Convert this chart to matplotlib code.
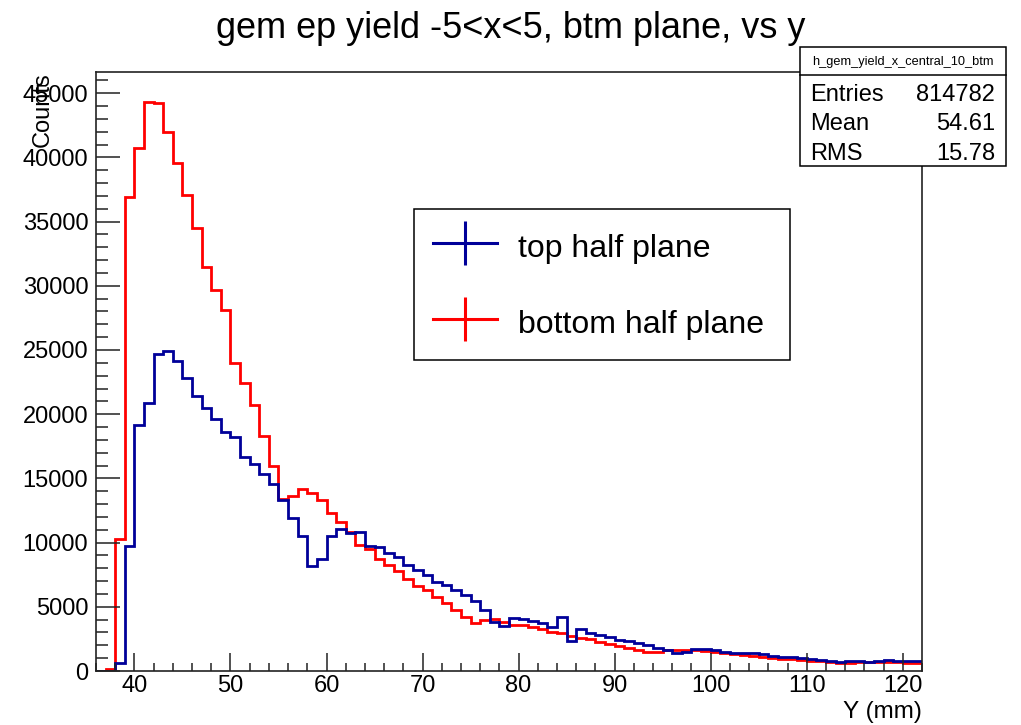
import numpy as np
import matplotlib
matplotlib.use("Agg")
import matplotlib.pyplot as plt
from matplotlib.lines import Line2D
from matplotlib.patches import Rectangle
from matplotlib.ticker import MultipleLocator

plt.rcParams['font.family'] = ['Liberation Sans', 'DejaVu Sans']

# ---- data (1 mm bins from 36 to 122 mm) ----
bin_edges = list(range(36, 123))

bottom_half = [
    0, 150, 10300, 36900, 40700, 44300, 44200, 42000, 39600, 37100,      # 36-45
    34500, 31500, 29700, 28100, 24000, 22400, 20700, 18300, 16000, 13400, # 46-55
    13600, 14200, 13900, 13300, 12300, 11600, 10850, 9800, 9500, 8700,    # 56-65
    8250, 7800, 7200, 6600, 6300, 5800, 5300, 4750, 4180, 3740,           # 66-75
    3950, 4050, 3840, 3620, 3580, 3450, 3250, 3060, 2940, 2730,           # 76-85
    2550, 2470, 2280, 2100, 1950, 1820, 1640, 1500, 1500, 1640,           # 86-95
    1600, 1600, 1600, 1580, 1500, 1380, 1320, 1250, 1170, 1110,           # 96-105
    1040, 970, 910, 860, 800, 750, 680, 600, 650, 730,                    # 106-115
    680, 730, 730, 680, 650, 600,                                         # 116-121
]

top_half = [
    0, 0, 650, 9700, 19150, 20900, 24700, 24950, 24150, 22800,            # 36-45
    21400, 20450, 19600, 18650, 18200, 16650, 16100, 15380, 14580, 13320, # 46-55
    11930, 10550, 8180, 8700, 10510, 11040, 10770, 10850, 9740, 9660,     # 56-65
    9210, 8900, 8260, 7870, 7450, 6920, 6660, 6300, 5920, 5450,           # 66-75
    4780, 3800, 3500, 4100, 4050, 3920, 3760, 3450, 4180, 2360,           # 76-85
    3250, 2940, 2800, 2670, 2410, 2340, 2160, 2020, 1770, 1640,           # 86-95
    1430, 1500, 1690, 1700, 1640, 1500, 1430, 1380, 1380, 1300,           # 96-105
    1190, 1110, 1060, 990, 910, 860, 800, 730, 800, 800,                  # 106-115
    680, 800, 830, 800, 800, 750,                                         # 116-121
]

labels = ["top half plane", "bottom half plane"]
colors = ["#000099", "#ff0000"]

stats_name = "h_gem_yield_x_central_10_btm"
stats_rows = [("Entries", "814782"), ("Mean", "54.61"), ("RMS", "15.78")]

title = "gem ep yield -5<x<5, btm plane, vs y"

# ---- figure ----
W, H = 1021, 725
fig = plt.figure(figsize=(W / 100, H / 100), dpi=100)
L, R, T, B = 96, 922, 72, 671
ax = fig.add_axes([L / W, 1 - B / H, (R - L) / W, (B - T) / H])

ax.stairs(bottom_half, bin_edges, color=colors[1], lw=2.0, baseline=None)
ax.stairs(top_half, bin_edges, color=colors[0], lw=2.0, baseline=None)

ax.set_xlim(36, 122)
ax.set_ylim(0, 46650)

ax.xaxis.set_major_locator(MultipleLocator(10))
ax.xaxis.set_minor_locator(MultipleLocator(2))
ax.yaxis.set_major_locator(MultipleLocator(5000))
ax.yaxis.set_minor_locator(MultipleLocator(1000))

ax.tick_params(axis='both', which='both', direction='in', top=False, right=False,
               labelsize=17, width=1.1, color='#222222')
ax.tick_params(axis='x', which='major', length=12.7, pad=3.2)
ax.tick_params(axis='x', which='minor', length=6)
ax.tick_params(axis='y', which='major', length=17.3, pad=5.5)
ax.tick_params(axis='y', which='minor', length=8.9)
for s in ax.spines.values():
    s.set_linewidth(1.2)
    s.set_color('#222222')

ax.set_xlabel("Y (mm)", fontsize=17.5, loc='right')
ax.xaxis.set_label_coords(1.0, (B - 701) / (B - T))
ax.set_ylabel("Counts", fontsize=17, loc='top')
ax.yaxis.set_label_coords((54 - L) / (R - L), 1.0)

fig.text(0.5, 1 - 28 / H, title, fontsize=26, ha='center', va='center')

# legend
handles = [Line2D([], [], color=c, lw=2.2, marker='|', markersize=32, markeredgewidth=2.2)
           for c in colors]
leg = ax.legend(handles, labels, loc='upper left', mode='expand',
                bbox_to_anchor=(414 / W, 1 - 358 / H, 376 / W, 149 / H),
                bbox_transform=fig.transFigure,
                borderaxespad=0, fontsize=23, frameon=True, fancybox=False,
                borderpad=0.6, handlelength=2.0, handletextpad=0.65,
                handleheight=1.4, labelspacing=1.23, framealpha=1)
leg.get_frame().set_edgecolor('black')
leg.get_frame().set_linewidth(1.1)

# stats box
sx0, sx1, sy0, sy1, ysep = 799.5, 1005.5, 47, 166, 75
fig.patches.append(Rectangle((sx0 / W, 1 - sy1 / H), (sx1 - sx0) / W, (sy1 - sy0) / H,
                             transform=fig.transFigure, facecolor='white',
                             edgecolor='black', lw=1.1, zorder=5))
fig.lines.append(Line2D([sx0 / W, sx1 / W], [1 - ysep / H, 1 - ysep / H],
                        transform=fig.transFigure, color='black', lw=1.1, zorder=6))
fig.text((sx0 + sx1) / 2 / W, 1 - 62 / H, stats_name, fontsize=9.2,
         ha='center', va='center', zorder=7)
for (k, v), yc in zip(stats_rows, [95, 124, 154]):
    fig.text(810.5 / W, 1 - yc / H, k, fontsize=17, ha='left', va='center', zorder=7)
    fig.text(995 / W, 1 - yc / H, v, fontsize=17, ha='right', va='center', zorder=7)

fig.savefig("out.png", dpi=100)
